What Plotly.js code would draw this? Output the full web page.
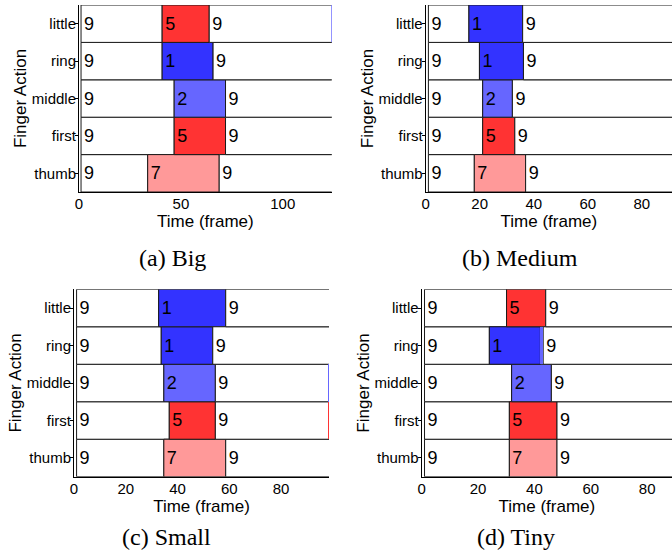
<!DOCTYPE html>
<html>
<head>
<meta charset="utf-8">
<script src="https://cdn.plot.ly/plotly-3.0.1.min.js"></script>
<style>html,body{margin:0;padding:0;background:#fff}#chart{width:672px;height:559px}</style>
</head>
<body>
<div id="chart"></div>
<script>
// ---- data ----
const fingers = ['thumb', 'first', 'middle', 'ring', 'little'];
const restState = 9;
const firstFrame = 1;

// (a) Big
const bigStart = [33.7, 46.7, 46.7, 40.8, 40.8];
const bigEnd   = [68.8, 71.9, 71.9, 65.8, 63.9];
const bigState = [7, 5, 2, 1, 5];
const bigStart2 = [null, null, null, null, 123.7];
const bigEnd2   = [null, null, null, null, 135];
const bigState2 = [null, null, null, null, 2];
const bigLastFrame = 135;

// (b) Medium
const medStart = [18.0, 21.1, 21.1, 19.9, 16.0];
const medEnd   = [37.0, 33.0, 32.1, 36.2, 35.9];
const medState = [7, 5, 2, 1, 1];
const medStart2 = [null, null, null, null, null];
const medEnd2   = [null, null, null, null, null];
const medState2 = [null, null, null, null, null];
const medLastFrame = 100;

// (c) Small
const smallStart = [34.7, 36.8, 34.7, 33.7, 32.7];
const smallEnd   = [58.6, 54.6, 54.6, 53.6, 58.6];
const smallState = [7, 5, 2, 1, 1];
const smallStart2 = [null, 98.3, 98.3, null, null];
const smallEnd2   = [null, 110, 110, null, null];
const smallState2 = [null, 5, 2, null, null];
const smallLastFrame = 110;

// (d) Tiny
const tinyStart = [31.1, 31.1, 31.9, 24.0, 30.1];
const tinyEnd   = [48.0, 48.0, 46.0, 42.1, 44.0];
const tinyState = [7, 5, 2, 1, 5];
const tinyStart2 = [null, null, null, 42.1, null];
const tinyEnd2   = [null, null, null, 43.1, null];
const tinyState2 = [null, null, null, 2, null];
const tinyLastFrame = 100;

const captions = ['(a) Big', '(b) Medium', '(c) Small', '(d) Tiny'];

// ---- styles ----
const stateColors = {1: '#3333FF', 2: '#6666FF', 5: '#FF3333', 7: '#FF9999', 9: '#FFFFFF'};
const FONT = 'Liberation Sans, Arial, sans-serif';
const lineStyle = {color: '#1a1a1a', width: 1};

function panelTraces(ax, start, end, state, start2, end2, state2, last) {
  const xa = 'x' + ax, ya = 'y' + ax;
  const common = {type: 'bar', orientation: 'h', xaxis: xa, yaxis: ya, y: fingers,
    textposition: 'inside', insidetextanchor: 'start', cliponaxis: true,
    textfont: {family: FONT, size: 18, color: '#000'}, hoverinfo: 'skip', showlegend: false};
  const t1 = Object.assign({}, common, {
    base: fingers.map(() => firstFrame),
    x: start.map(s => s - firstFrame),
    text: fingers.map(() => String(restState)),
    marker: {color: stateColors[restState], line: lineStyle}
  });
  const t2 = Object.assign({}, common, {
    base: start,
    x: start.map((s, i) => end[i] - s),
    text: state.map(String),
    marker: {color: state.map(s => stateColors[s]), line: lineStyle}
  });
  const restFrom = end.map((e, i) => (start2[i] !== null && Math.abs(start2[i] - e) < 1e-9) ? end2[i] : e);
  const t3 = Object.assign({}, common, {
    base: restFrom,
    x: restFrom.map(r => last - r),
    text: fingers.map(() => String(restState)),
    marker: {color: stateColors[restState], line: lineStyle}
  });
  const t4 = Object.assign({}, common, {
    base: start2.map(s => s === null ? 0 : s),
    x: start2.map((s, i) => s === null ? 0 : end2[i] - s),
    text: fingers.map(() => ''),
    marker: {color: state2.map(s => s === null ? 'rgba(0,0,0,0)' : stateColors[s]),
             line: {color: 'rgba(0,0,0,0)', width: 0}}
  });
  return [t1, t2, t3, t4];
}

const data = [].concat(
  panelTraces('', bigStart, bigEnd, bigState, bigStart2, bigEnd2, bigState2, bigLastFrame),
  panelTraces('2', medStart, medEnd, medState, medStart2, medEnd2, medState2, medLastFrame),
  panelTraces('3', smallStart, smallEnd, smallState, smallStart2, smallEnd2, smallState2, smallLastFrame),
  panelTraces('4', tinyStart, tinyEnd, tinyState, tinyStart2, tinyEnd2, tinyState2, tinyLastFrame)
);

const W = 672, H = 559;
function xAxis(l, r, range, dtick) {
  return {domain: [l / W, r / W], range: range, dtick: dtick, tick0: 0,
    showline: true, linecolor: '#000', linewidth: 1, ticks: '', showgrid: false, zeroline: false,
    ticklabelstandoff: -2,
    tickfont: {family: FONT, size: 15, color: '#000'},
    title: {text: 'Time (frame)', font: {family: FONT, size: 17, color: '#000'}, standoff: 0},
    fixedrange: true};
}
function yAxis(t, b, anchor) {
  return {domain: [1 - b / H, 1 - t / H], type: 'category', categoryorder: 'array', categoryarray: fingers,
    range: [-0.5, 4.5], anchor: anchor, showline: true, linecolor: '#000', linewidth: 1,
    ticks: 'outside', ticklen: 3, tickcolor: '#000', showgrid: false, zeroline: false,
    ticklabelstandoff: -4,
    tickfont: {family: FONT, size: 15, color: '#000'},
    title: {text: 'Finger Action', font: {family: FONT, size: 17, color: '#000'}, standoff: 0},
    fixedrange: true};
}

const capPos = [[172.5, 258], [520, 258], [166.7, 536.7], [515.8, 536.7]];
const layout = {
  width: W, height: H, margin: {l: 0, r: 0, t: 0, b: 0},
  paper_bgcolor: '#fff', plot_bgcolor: '#fff',
  barmode: 'overlay', bargap: 0,
  xaxis: Object.assign(xAxis(79, 331.7, [0, 124], 50), {anchor: 'y'}),
  yaxis: yAxis(5, 192, 'x'),
  xaxis2: Object.assign(xAxis(425.7, 672, [0, 91.2], 20), {anchor: 'y2'}),
  yaxis2: yAxis(5, 192, 'x2'),
  xaxis3: Object.assign(xAxis(74, 329, [0, 98.5], 20), {anchor: 'y3'}),
  yaxis3: yAxis(289.3, 476.7, 'x3'),
  xaxis4: Object.assign(xAxis(421.7, 672, [0, 88.8], 20), {anchor: 'y4'}),
  yaxis4: yAxis(289.3, 476.7, 'x4'),
  annotations: captions.map((c, i) => ({
    text: c, xref: 'paper', yref: 'paper', x: capPos[i][0] / W, y: 1 - capPos[i][1] / H,
    xanchor: 'center', yanchor: 'middle', showarrow: false,
    font: {family: 'Liberation Serif, Times New Roman, serif', size: 24, color: '#000'}
  }))
};

Plotly.newPlot('chart', data, layout, {displayModeBar: false, staticPlot: true});
</script>
</body>
</html>
